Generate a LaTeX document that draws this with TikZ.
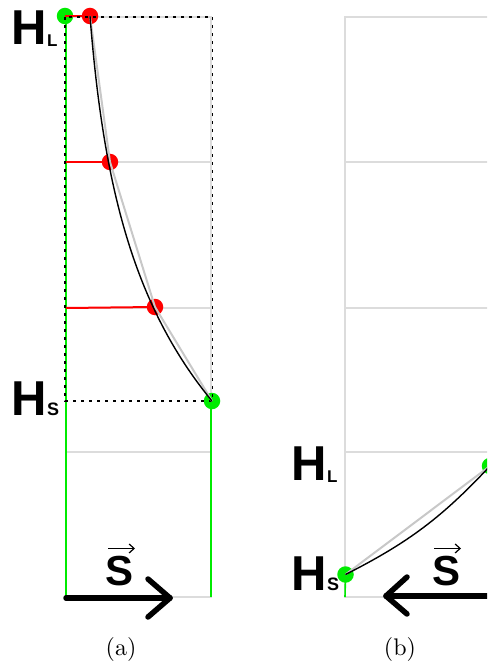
\documentclass[tikz,border=0pt]{standalone}
\usepackage{fontspec}
\setsansfont{Liberation Sans}
\newfontfamily\capfont{lmroman10-regular.otf}
\usetikzlibrary{arrows.meta}
\definecolor{gridgray}{RGB}{220,220,220}
\definecolor{chordgray}{RGB}{200,200,200}
\definecolor{ptgreen}{RGB}{0,235,0}
\definecolor{ptred}{RGB}{255,0,0}
\begin{document}
\begin{tikzpicture}[x=1pt,y=-1pt,
  gridline/.style={draw=gridgray,line width=2pt},
  greenline/.style={draw=ptgreen,line width=1.6pt},
  redline/.style={draw=ptred,line width=2pt},
  dotline/.style={draw=black,line width=1.7pt,dash pattern=on 3pt off 5pt},
  chord/.style={draw=chordgray,line width=2pt},
  curveline/.style={draw=black,line width=1.4pt},
  gdot/.style={circle,fill=ptgreen,inner sep=0pt,minimum size=16.5pt},
  rdot/.style={circle,fill=ptred,inner sep=0pt,minimum size=16.5pt},
  bigarrow/.style={draw=black,line width=5.5pt,line cap=round,line join=round},
  hlab/.style={font=\sffamily\bfseries,inner sep=0pt,anchor=base west},
  slab/.style={font=\sffamily\bfseries\fontsize{42}{42}\selectfont,inner sep=0pt,anchor=base},
  vecarrow/.style={draw=black,line width=1.2pt,-{Straight Barb[length=5pt,width=9pt,line width=1.2pt]}},
  caplab/.style={font=\capfont\fontsize{24}{28}\selectfont,inner sep=0pt}
]
\clip (0,0) rectangle (487,671);
\useasboundingbox (0,0) rectangle (487,671);

% ---------- panel (a) ----------
\draw[gridline] (66,17) rectangle (211,597);
\foreach \yy in {162,308,452} \draw[gridline] (66,\yy) -- (211,\yy);
\draw[greenline] (66,17) -- (66,597);
\draw[greenline] (211,401) -- (211,597);

\node[gdot] (ga1) at (65,16) {};
\node[rdot] (r1) at (90,16) {};
\node[rdot] (r2) at (110,162) {};
\node[rdot] (r3) at (155,307) {};
\node[gdot] (ga2) at (212,401) {};
\coordinate (l2) at (66,162);
\coordinate (l3) at (66,308);

\draw[redline] (ga1.center) -- (r1.center);
\draw[redline] (l2) -- (r2.center);
\draw[redline] (l3) -- (r3.center);

\draw[dotline] (65,17) rectangle (212.5,401);

\draw[chord] (r1.center) -- (r2.center) -- (r3.center) -- (ga2.center);
\draw[curveline] plot[domain=0:1,samples=80,smooth]
  ({90+122*(exp(2.35*\x)-1)/(exp(2.35)-1)},{16+385*\x});

\node[hlab] (hla) at (11.5,45) {\fontsize{49}{49}\selectfont H\raisebox{-2pt}{\fontsize{17}{17}\selectfont L}};
\node[hlab] (hsa) at (11.5,415) {\fontsize{49}{49}\selectfont H\fontsize{18}{18}\selectfont S};

\coordinate (a0) at (66,598);
\coordinate (a1) at (170,598);
\coordinate (a2) at (148,579);
\coordinate (a3) at (148,617);
\draw[bigarrow] (a0) -- (a1);
\draw[bigarrow] (a2) -- (a1) -- (a3);
\node[slab] (sa) at (120,585) {S};
\draw[vecarrow] ([shift={(-12,-7)}]sa.north) -- ([shift={(15,-7)}]sa.north);

\node[caplab] (capa) at (121,649) {(a)};

% ---------- panel (b) ----------
\draw[gridline] (345,17) rectangle (490,597);
\foreach \yy in {162,308,452} \draw[gridline] (345,\yy) -- (490,\yy);
\node[gdot] (gb1) at (345.5,574.5) {};
\node[gdot] (gb2) at (490,466) {};
\coordinate (gb0) at (345,597);
\draw[greenline] (gb1.center) -- (gb0);
\draw[chord] (gb1.center) -- (gb2.center);
\draw[curveline] (gb1.center) to[bend right=10] (gb2.center);

\node[hlab] (hlb) at (291.5,480) {\fontsize{49}{49}\selectfont H\raisebox{-2pt}{\fontsize{17}{17}\selectfont L}};
\node[hlab] (hsb) at (291.5,590) {\fontsize{49}{49}\selectfont H\fontsize{18}{18}\selectfont S};

\coordinate (b0) at (492,596);
\coordinate (b1) at (386,596);
\coordinate (b2) at (407,577);
\coordinate (b3) at (407,614);
\draw[bigarrow] (b0) -- (b1);
\draw[bigarrow] (b2) -- (b1) -- (b3);
\node[slab] (sb) at (446,585) {S};
\draw[vecarrow] ([shift={(-12,-7)}]sb.north) -- ([shift={(15,-7)}]sb.north);

\node[caplab] (capb) at (400,649) {(b)};
\end{tikzpicture}
\end{document}
